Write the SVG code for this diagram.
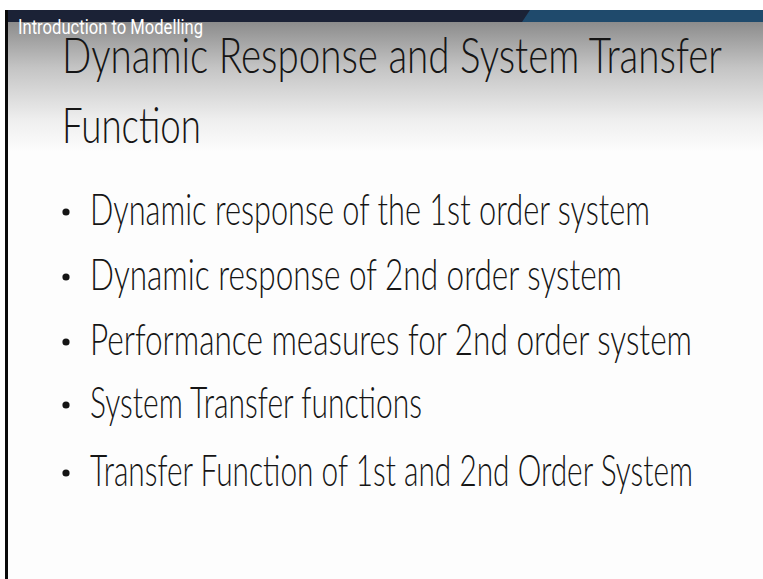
<svg xmlns="http://www.w3.org/2000/svg" width="763" height="579" viewBox="0 0 763 579">
  <defs>
    <linearGradient id="headShade" x1="0" y1="0" x2="0" y2="1">
      <stop offset="0" stop-color="#8c8c8c"/>
      <stop offset="0.35" stop-color="#c4c4c4"/>
      <stop offset="0.75" stop-color="#eeeeee"/>
      <stop offset="1" stop-color="#fdfdfd"/>
    </linearGradient>
    <style>
      .title { font-family: Lato, "Open Sans", "Liberation Sans", sans-serif; font-weight: 300; font-size: 50px; fill: #151515; }
      .item { font-family: Lato, "Open Sans", "Liberation Sans", sans-serif; font-weight: 300; font-size: 43px; fill: #151515; }
      .dot { fill: #151515; }
      .caption { font-family: Roboto, "Liberation Sans", sans-serif; font-size: 21px; fill: #ffffff; }
    </style>
  </defs>

  <!-- page -->
  <rect x="0" y="0" width="763" height="579" fill="#ffffff"/>
  <rect x="7" y="22" width="756" height="557" fill="#fdfdfd"/>
  <rect x="7" y="22" width="756" height="130" fill="url(#headShade)"/>

  <!-- header bar -->
  <rect x="5" y="10" width="758" height="12" fill="#1b2236"/>
  <polygon points="530,10 763,10 763,22 522,22" fill="#1f4a6c"/>

  <!-- left edge -->
  <rect x="5" y="10" width="3" height="569" fill="#0a0a0a"/>

  <text class="caption" x="18" y="34" textLength="185" lengthAdjust="spacingAndGlyphs">Introduction to Modelling</text>

  <!-- title -->
  <text class="title" x="62" y="73" textLength="660" lengthAdjust="spacingAndGlyphs">Dynamic Response and System Transfer</text>
  <text class="title" x="62" y="143" textLength="139" lengthAdjust="spacingAndGlyphs">Function</text>

  <!-- bullet list -->
  <g id="item1">
    <circle class="dot" cx="66" cy="212" r="3.6"/>
    <text class="item" x="90" y="225" textLength="560" lengthAdjust="spacingAndGlyphs">Dynamic response of the 1st order system</text>
  </g>
  <g id="item2">
    <circle class="dot" cx="66" cy="277" r="3.6"/>
    <text class="item" x="90" y="290" textLength="532" lengthAdjust="spacingAndGlyphs">Dynamic response of 2nd order  system</text>
  </g>
  <g id="item3">
    <circle class="dot" cx="66" cy="342" r="3.6"/>
    <text class="item" x="90" y="355" textLength="602" lengthAdjust="spacingAndGlyphs">Performance measures  for 2nd order system</text>
  </g>
  <g id="item4">
    <circle class="dot" cx="66" cy="405" r="3.6"/>
    <text class="item" x="90" y="418" textLength="332" lengthAdjust="spacingAndGlyphs">System Transfer functions</text>
  </g>
  <g id="item5">
    <circle class="dot" cx="66" cy="473" r="3.6"/>
    <text class="item" x="90" y="486" textLength="603" lengthAdjust="spacingAndGlyphs">Transfer Function of 1st and 2nd Order System</text>
  </g>
</svg>
